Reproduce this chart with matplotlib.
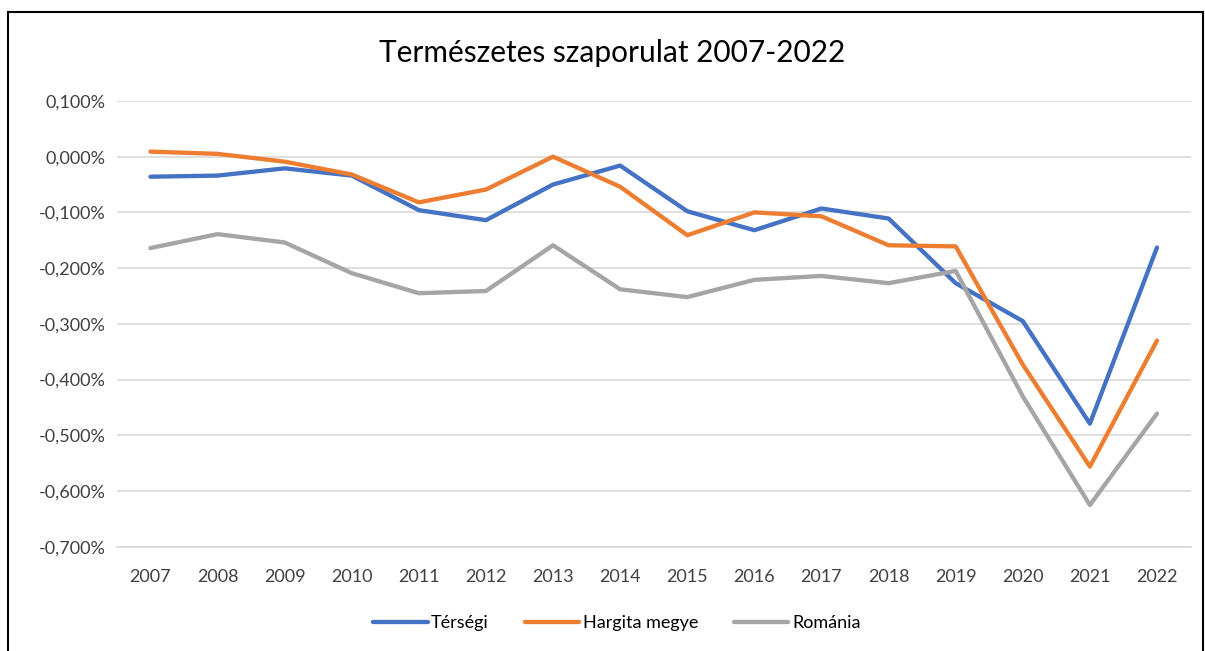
import matplotlib.pyplot as plt
from matplotlib.ticker import FuncFormatter
from matplotlib.patches import Rectangle

years = [str(y) for y in range(2007, 2023)]
tersegi = [-0.036, -0.034, -0.021, -0.034, -0.096, -0.114, -0.050, -0.016,
           -0.098, -0.132, -0.093, -0.111, -0.227, -0.295, -0.479, -0.163]
hargita = [0.009, 0.005, -0.009, -0.032, -0.082, -0.059, 0.000, -0.054,
           -0.141, -0.100, -0.107, -0.159, -0.161, -0.373, -0.556, -0.330]
romania = [-0.164, -0.139, -0.154, -0.209, -0.245, -0.241, -0.159, -0.238,
           -0.252, -0.221, -0.214, -0.227, -0.205, -0.430, -0.625, -0.461]

plt.rcParams['font.family'] = ['Lato', 'DejaVu Sans']

fig = plt.figure(figsize=(12.05, 6.51), dpi=100)
ax = fig.add_axes([0.097, 0.160, 0.891, 0.685])

x = range(len(years))
ax.plot(x, tersegi, color='#4472C4', lw=3.1, label='Térségi', solid_capstyle='round')
ax.plot(x, hargita, color='#ED7D31', lw=3.1, label='Hargita megye', solid_capstyle='round')
ax.plot(x, romania, color='#A5A5A5', lw=3.1, label='Románia', solid_capstyle='round')

ax.set_ylim(-0.7, 0.1)
ax.set_xlim(-0.5, len(years) - 0.5)
ax.set_yticks([0.1 - 0.1 * i for i in range(9)])
ax.yaxis.set_major_formatter(FuncFormatter(lambda v, p: ('%.3f%%' % v).replace('.', ',').replace('-0,000', '0,000')))
ax.set_xticks(list(x))
ax.set_xticklabels(years)
ax.tick_params(length=0, labelsize=13, colors='#404040')
ax.tick_params(axis='y', pad=8)
ax.tick_params(axis='x', pad=16)
ax.grid(axis='y', color='#D9D9D9', lw=1.2)
ax.set_axisbelow(True)
for s in ax.spines.values():
    s.set_visible(False)
ax.spines['bottom'].set_visible(True)
ax.spines['bottom'].set_color('#D9D9D9')
ax.spines['bottom'].set_linewidth(1.2)

fig.text(0.508, 0.918, 'Természetes szaporulat 2007-2022', ha='center', va='center',
         fontsize=21.5, color='#000000')

fig.legend(loc='center', bbox_to_anchor=(0.512, 0.043), ncol=3, frameon=False,
           fontsize=13, handlelength=3, columnspacing=2.0, handletextpad=0.2)

fig.patches.append(Rectangle((8 / 1205, -0.05), 1195 / 1205, 1 - 12 / 651 + 0.05,
                             transform=fig.transFigure, fill=False, ec='black', lw=1.5))

fig.savefig('out.png', dpi=100)
